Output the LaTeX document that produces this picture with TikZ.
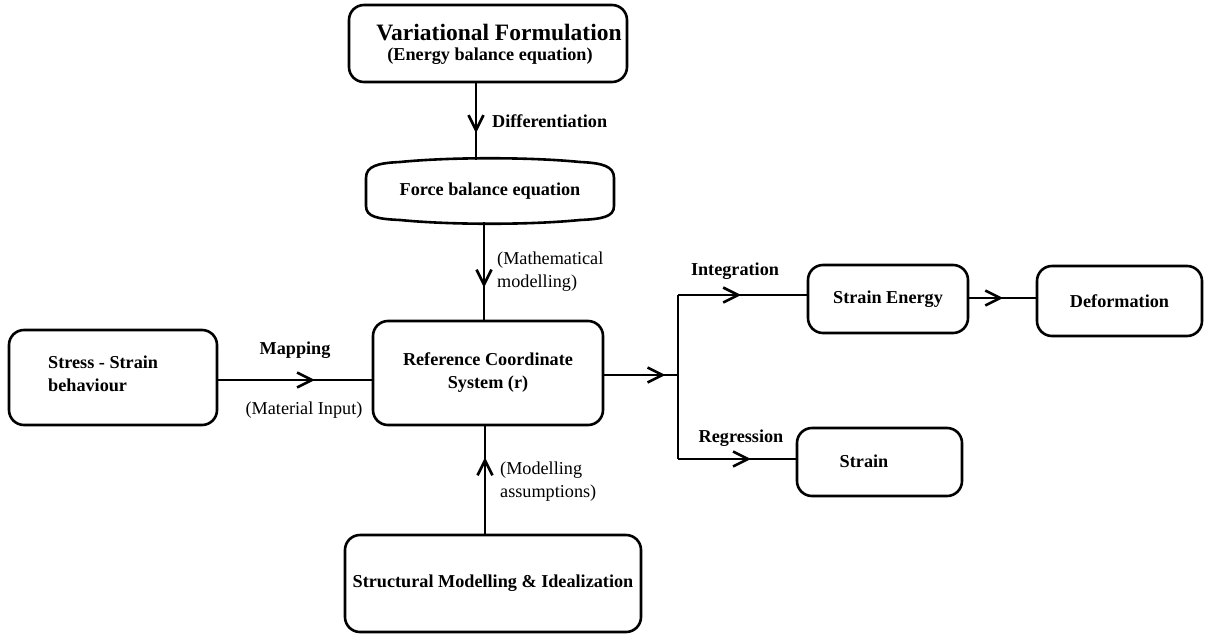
\documentclass[tikz,border=0pt]{standalone}
\usepackage{fontspec}
\setmainfont{Liberation Serif}
\usetikzlibrary{arrows.meta,decorations.markings}
\begin{document}
\begin{tikzpicture}[x=1pt,y=-1pt,
  box/.style={draw,line width=2.6pt,rounded corners=15pt,inner sep=0pt,align=center,font=\bfseries\fontsize{18.2}{23}\selectfont},
  conn/.style={line width=2.6pt},
  midarrow/.style={postaction={decorate},decoration={markings,mark=at position #1 with {\arrow{Straight Barb[length=15pt,width=15pt,line width=2.6pt]}}}},
  blab/.style={font=\bfseries\fontsize{18.2}{23}\selectfont,inner sep=0pt},
  rlab/.style={font=\fontsize{18.2}{23}\selectfont,inner sep=0pt,align=left}]
\useasboundingbox (0,0) rectangle (1205,635);
% boxes
\node[box,minimum width=278pt,minimum height=77pt] (var) at (488,43.5) {};
\node[inner sep=0pt,font=\bfseries\fontsize{23.5}{26}\selectfont] (vart) at (499,33) {Variational Formulation};
\node[blab] (vars) at (490,56) {(Energy balance equation)};
\node[inner sep=0pt,minimum width=248pt,minimum height=62pt,font=\bfseries\fontsize{18.2}{23}\selectfont] (force) at (490,191) {Force balance equation};
\draw[line width=2.6pt] (366,178) .. controls (366,166) and (378,163) .. (400,162)
  .. controls (450,157) and (530,157) .. (580,162)
  .. controls (602,163) and (614,166) .. (614,178) -- (614,206)
  .. controls (614,217) and (602,219) .. (580,220)
  .. controls (530,225) and (450,225) .. (400,220)
  .. controls (378,219) and (366,217) .. (366,206) -- cycle;
\node[box,minimum width=230pt,minimum height=104pt] (ref) at (488,373)
  {Reference Coordinate\\System (r)};
\node[box,minimum width=208pt,minimum height=95pt] (stress) at (113,377.5) {};
\node[blab,anchor=west,align=left] (stresst) at (48,373.5) {Stress - Strain\\behaviour};
\node[box,minimum width=160pt,minimum height=68pt] (se) at (888,299) {Strain Energy};
\node[box,minimum width=165pt,minimum height=70pt] (def) at (1119.5,301) {Deformation};
\node[box,minimum width=165pt,minimum height=68pt] (strain) at (879.5,462) {};
\node[blab] (straint) at (864,461) {Strain};
\node[box,minimum width=296pt,minimum height=97pt] (struct) at (493,583.5)
  {Structural Modelling \& Idealization};
% connectors
\draw[conn,midarrow=0.65] ([xshift=-12pt]var.south) -- ([xshift=-14pt]force.north);
\draw[conn,midarrow=0.67] ([xshift=-6pt]force.south) -- ([xshift=-4pt]ref.north);
\draw[conn,midarrow=0.63] ([yshift=-2.5pt]stress.east) -- ([yshift=-7pt]ref.west);
\coordinate (j) at (678,375);
\coordinate (jt) at (678,295);
\coordinate (jb) at (678,459);
\draw[conn,midarrow=0.83] ([yshift=-2pt]ref.east) -- (j);
\draw[conn] (jt) -- (jb);
\draw[conn,midarrow=0.49] (jt) -- (se.west |- jt);
\draw[conn,midarrow=0.51] ([yshift=1pt]se.east) -- ([yshift=3pt]def.west);
\draw[conn,midarrow=0.62] (jb) -- (strain.west |- jb);
\draw[conn,midarrow=0.71] ([xshift=-8pt]struct.north) -- ([xshift=-3pt]ref.south);
% labels
\node[blab,anchor=west] (ldiff) at (492,121) {Differentiation};
\node[rlab,anchor=west] (lmath) at (497,271.5) {(Mathematical\\modelling)};
\node[blab] (lmap) at (295,350) {Mapping};
\node[rlab] (lmat) at (304,410) {(Material Input)};
\node[blab] (lint) at (735,271) {Integration};
\node[blab] (lreg) at (741,438) {Regression};
\node[rlab,anchor=west] (lmod) at (500,481.5) {(Modelling\\assumptions)};
\end{tikzpicture}
\end{document}
